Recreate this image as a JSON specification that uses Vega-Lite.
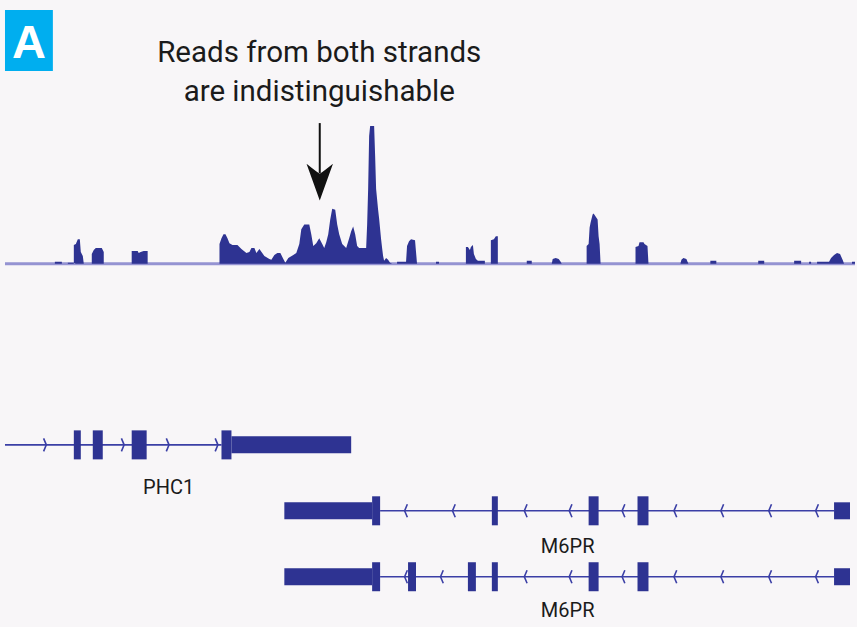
{
  "$schema": "https://vega.github.io/schema/vega-lite/v6.json",
  "width": 857,
  "height": 627,
  "padding": 0,
  "autosize": {"type": "fit", "contains": "padding"},
  "background": "#f8f6f8",
  "config": {"view": {"stroke": null}, "axis": {"disable": true}},
  "datasets": {
    "baseline": [{"start": 5, "end": 857, "level": 0}],
    "coverage": [
      {"pos": 50, "depth": 0}, {"pos": 55, "depth": 0}, {"pos": 55, "depth": 2}, {"pos": 62, "depth": 2}, {"pos": 62, "depth": 0},
      {"pos": 68, "depth": 0}, {"pos": 68, "depth": 1}, {"pos": 74, "depth": 1}, {"pos": 74, "depth": 18}, {"pos": 76, "depth": 20}, {"pos": 78, "depth": 25}, {"pos": 80, "depth": 25}, {"pos": 81, "depth": 12}, {"pos": 83, "depth": 8}, {"pos": 84, "depth": 0},
      {"pos": 92, "depth": 0}, {"pos": 92, "depth": 10}, {"pos": 94, "depth": 14}, {"pos": 96, "depth": 16}, {"pos": 102, "depth": 16}, {"pos": 104, "depth": 12}, {"pos": 104, "depth": 0},
      {"pos": 132, "depth": 0}, {"pos": 132, "depth": 13}, {"pos": 138, "depth": 13}, {"pos": 139, "depth": 11}, {"pos": 141, "depth": 12}, {"pos": 144, "depth": 13}, {"pos": 148, "depth": 13}, {"pos": 148, "depth": 0},
      {"pos": 220, "depth": 0}, {"pos": 220, "depth": 20}, {"pos": 222, "depth": 26}, {"pos": 224, "depth": 30}, {"pos": 226, "depth": 30}, {"pos": 228, "depth": 26}, {"pos": 230, "depth": 21}, {"pos": 233, "depth": 19}, {"pos": 238, "depth": 19}, {"pos": 242, "depth": 15}, {"pos": 247, "depth": 11}, {"pos": 250, "depth": 12}, {"pos": 252, "depth": 16}, {"pos": 255, "depth": 16}, {"pos": 257, "depth": 11}, {"pos": 260, "depth": 15}, {"pos": 265, "depth": 8}, {"pos": 270, "depth": 5}, {"pos": 272, "depth": 4}, {"pos": 275, "depth": 9}, {"pos": 278, "depth": 11}, {"pos": 281, "depth": 11}, {"pos": 284, "depth": 5}, {"pos": 286, "depth": 1}, {"pos": 289, "depth": 6}, {"pos": 294, "depth": 9}, {"pos": 297, "depth": 11}, {"pos": 300, "depth": 20}, {"pos": 302, "depth": 35}, {"pos": 305, "depth": 40}, {"pos": 310, "depth": 40}, {"pos": 312, "depth": 30}, {"pos": 314, "depth": 18}, {"pos": 317, "depth": 21}, {"pos": 320, "depth": 26}, {"pos": 323, "depth": 20}, {"pos": 325, "depth": 16}, {"pos": 327, "depth": 22}, {"pos": 329, "depth": 30}, {"pos": 331, "depth": 45}, {"pos": 333, "depth": 56}, {"pos": 336, "depth": 55}, {"pos": 338, "depth": 40}, {"pos": 340, "depth": 30}, {"pos": 343, "depth": 20}, {"pos": 347, "depth": 16}, {"pos": 350, "depth": 26}, {"pos": 352, "depth": 33}, {"pos": 354, "depth": 38}, {"pos": 356, "depth": 30}, {"pos": 358, "depth": 18}, {"pos": 360, "depth": 16}, {"pos": 367, "depth": 16}, {"pos": 368, "depth": 40}, {"pos": 369, "depth": 76}, {"pos": 370, "depth": 130}, {"pos": 371, "depth": 140}, {"pos": 375, "depth": 140}, {"pos": 376, "depth": 110}, {"pos": 377, "depth": 76}, {"pos": 379, "depth": 55}, {"pos": 380, "depth": 46}, {"pos": 382, "depth": 25}, {"pos": 383, "depth": 16}, {"pos": 384, "depth": 8}, {"pos": 385, "depth": 3}, {"pos": 387, "depth": 6}, {"pos": 389, "depth": 4}, {"pos": 391, "depth": 1}, {"pos": 393, "depth": 0},
      {"pos": 398, "depth": 0}, {"pos": 398, "depth": 2}, {"pos": 407, "depth": 2}, {"pos": 408, "depth": 18}, {"pos": 410, "depth": 23}, {"pos": 412, "depth": 25}, {"pos": 416, "depth": 24}, {"pos": 417, "depth": 12}, {"pos": 418, "depth": 0},
      {"pos": 437, "depth": 0}, {"pos": 437, "depth": 2}, {"pos": 440, "depth": 2}, {"pos": 440, "depth": 0},
      {"pos": 467, "depth": 0}, {"pos": 467, "depth": 17}, {"pos": 469, "depth": 17}, {"pos": 471, "depth": 14}, {"pos": 472, "depth": 17}, {"pos": 474, "depth": 19}, {"pos": 475, "depth": 10}, {"pos": 477, "depth": 5}, {"pos": 479, "depth": 3}, {"pos": 486, "depth": 3}, {"pos": 486, "depth": 0},
      {"pos": 492, "depth": 0}, {"pos": 492, "depth": 24}, {"pos": 495, "depth": 25}, {"pos": 497, "depth": 28}, {"pos": 499, "depth": 28}, {"pos": 499, "depth": 0},
      {"pos": 528, "depth": 0}, {"pos": 528, "depth": 3}, {"pos": 533, "depth": 3}, {"pos": 533, "depth": 0},
      {"pos": 553, "depth": 0}, {"pos": 554, "depth": 5}, {"pos": 557, "depth": 6}, {"pos": 560, "depth": 5}, {"pos": 562, "depth": 2}, {"pos": 563, "depth": 0},
      {"pos": 588, "depth": 0}, {"pos": 588, "depth": 18}, {"pos": 590, "depth": 20}, {"pos": 591, "depth": 37}, {"pos": 592, "depth": 42}, {"pos": 594, "depth": 50}, {"pos": 595, "depth": 51}, {"pos": 597, "depth": 48}, {"pos": 599, "depth": 45}, {"pos": 600, "depth": 28}, {"pos": 601, "depth": 20}, {"pos": 602, "depth": 0},
      {"pos": 637, "depth": 0}, {"pos": 637, "depth": 17}, {"pos": 640, "depth": 18}, {"pos": 641, "depth": 22}, {"pos": 645, "depth": 22}, {"pos": 646, "depth": 20}, {"pos": 649, "depth": 18}, {"pos": 650, "depth": 0},
      {"pos": 682, "depth": 0}, {"pos": 683, "depth": 4}, {"pos": 685, "depth": 6}, {"pos": 688, "depth": 5}, {"pos": 690, "depth": 0},
      {"pos": 712, "depth": 0}, {"pos": 712, "depth": 3}, {"pos": 718, "depth": 3}, {"pos": 718, "depth": 0},
      {"pos": 760, "depth": 0}, {"pos": 760, "depth": 3}, {"pos": 766, "depth": 3}, {"pos": 766, "depth": 0},
      {"pos": 796, "depth": 0}, {"pos": 796, "depth": 3}, {"pos": 803, "depth": 3}, {"pos": 803, "depth": 0},
      {"pos": 811, "depth": 0}, {"pos": 811, "depth": 2}, {"pos": 813, "depth": 2}, {"pos": 813, "depth": 0},
      {"pos": 819, "depth": 0}, {"pos": 819, "depth": 2}, {"pos": 831, "depth": 2}, {"pos": 833, "depth": 6}, {"pos": 836, "depth": 9}, {"pos": 839, "depth": 11}, {"pos": 842, "depth": 10}, {"pos": 845, "depth": 3}, {"pos": 846, "depth": 0},
      {"pos": 854, "depth": 0}, {"pos": 854, "depth": 2}, {"pos": 857, "depth": 2}
    ],
    "note": [
      {"text": "Reads from both strands", "pos": 320, "level": 205},
      {"text": "are indistinguishable", "pos": 320, "level": 165}
    ],
    "arrow": [{"pos": 320.5, "from": 143, "to": 92, "head": 83}],
    "panel": [{"label": "A", "start": 5, "end": 53, "top": 258, "bottom": 196, "pos": 29, "level": 209}],
    "introns": [
      {"track": "PHC1", "level": -184, "start": 5, "end": 222},
      {"track": "M6PR-1", "level": -251, "start": 381, "end": 836},
      {"track": "M6PR-2", "level": -318, "start": 381, "end": 836}
    ],
    "exons": [
      {"track": "PHC1", "level": -184, "start": 74, "end": 81, "kind": "coding"},
      {"track": "PHC1", "level": -184, "start": 93, "end": 103, "kind": "coding"},
      {"track": "PHC1", "level": -184, "start": 132, "end": 147, "kind": "coding"},
      {"track": "PHC1", "level": -184, "start": 222, "end": 232, "kind": "coding"},
      {"track": "PHC1", "level": -184, "start": 232, "end": 352, "kind": "utr"},
      {"track": "M6PR-1", "level": -251, "start": 285, "end": 373, "kind": "utr"},
      {"track": "M6PR-1", "level": -251, "start": 373, "end": 381, "kind": "coding"},
      {"track": "M6PR-1", "level": -251, "start": 493, "end": 499, "kind": "coding"},
      {"track": "M6PR-1", "level": -251, "start": 590, "end": 600, "kind": "coding"},
      {"track": "M6PR-1", "level": -251, "start": 639, "end": 650, "kind": "coding"},
      {"track": "M6PR-1", "level": -251, "start": 836, "end": 852, "kind": "utr"},
      {"track": "M6PR-2", "level": -318, "start": 285, "end": 373, "kind": "utr"},
      {"track": "M6PR-2", "level": -318, "start": 373, "end": 381, "kind": "coding"},
      {"track": "M6PR-2", "level": -318, "start": 409, "end": 417, "kind": "coding"},
      {"track": "M6PR-2", "level": -318, "start": 469, "end": 477, "kind": "coding"},
      {"track": "M6PR-2", "level": -318, "start": 493, "end": 499, "kind": "coding"},
      {"track": "M6PR-2", "level": -318, "start": 590, "end": 600, "kind": "coding"},
      {"track": "M6PR-2", "level": -318, "start": 639, "end": 650, "kind": "coding"},
      {"track": "M6PR-2", "level": -318, "start": 836, "end": 852, "kind": "utr"}
    ],
    "chevrons": [
      {"level": -184, "pos": 45, "strand": "+"},
      {"level": -184, "pos": 123, "strand": "+"},
      {"level": -184, "pos": 168, "strand": "+"},
      {"level": -184, "pos": 217, "strand": "+"},
      {"level": -251, "pos": 407, "strand": "-"},
      {"level": -251, "pos": 455, "strand": "-"},
      {"level": -251, "pos": 527, "strand": "-"},
      {"level": -251, "pos": 572, "strand": "-"},
      {"level": -251, "pos": 625, "strand": "-"},
      {"level": -251, "pos": 677, "strand": "-"},
      {"level": -251, "pos": 724, "strand": "-"},
      {"level": -251, "pos": 772, "strand": "-"},
      {"level": -251, "pos": 819, "strand": "-"},
      {"level": -318, "pos": 407, "strand": "-"},
      {"level": -318, "pos": 443, "strand": "-"},
      {"level": -318, "pos": 527, "strand": "-"},
      {"level": -318, "pos": 572, "strand": "-"},
      {"level": -318, "pos": 625, "strand": "-"},
      {"level": -318, "pos": 677, "strand": "-"},
      {"level": -318, "pos": 724, "strand": "-"},
      {"level": -318, "pos": 772, "strand": "-"},
      {"level": -318, "pos": 819, "strand": "-"}
    ],
    "genes": [
      {"name": "PHC1", "pos": 169, "level": -234},
      {"name": "M6PR", "pos": 569, "level": -294},
      {"name": "M6PR", "pos": 569, "level": -359}
    ]
  },
  "layer": [
    {
      "data": {"name": "baseline"},
      "mark": {"type": "rule", "color": "#9593d2", "strokeWidth": 3},
      "encoding": {
        "x": {"field": "start", "type": "quantitative", "scale": {"domain": [0, 857], "nice": false, "zero": false}},
        "x2": {"field": "end"},
        "y": {"field": "level", "type": "quantitative", "scale": {"domain": [-364, 263], "nice": false, "zero": false}}
      }
    },
    {
      "data": {"name": "coverage"},
      "mark": {"type": "area", "color": "#2e3392", "interpolate": "linear"},
      "encoding": {
        "x": {"field": "pos", "type": "quantitative", "sort": null},
        "y": {"field": "depth", "type": "quantitative"}
      }
    },
    {
      "data": {"name": "note"},
      "mark": {"type": "text", "font": "Roboto", "fontSize": 29.5, "color": "#1b1b1b", "align": "center", "baseline": "alphabetic"},
      "encoding": {
        "x": {"field": "pos", "type": "quantitative"},
        "y": {"field": "level", "type": "quantitative"},
        "text": {"field": "text"}
      }
    },
    {
      "data": {"name": "arrow"},
      "mark": {"type": "rule", "color": "#111111", "strokeWidth": 2},
      "encoding": {
        "x": {"field": "pos", "type": "quantitative"},
        "y": {"field": "from", "type": "quantitative"},
        "y2": {"field": "to"}
      }
    },
    {
      "data": {"name": "arrow"},
      "mark": {"type": "point", "filled": true, "color": "#111111", "opacity": 1, "size": 1347, "shape": "M0,1 L-0.72,-1 Q-0.25,-0.62 0,-0.45 Q0.25,-0.62 0.72,-1 Z"},
      "encoding": {
        "x": {"field": "pos", "type": "quantitative"},
        "y": {"field": "head", "type": "quantitative"}
      }
    },
    {
      "data": {"name": "panel"},
      "mark": {"type": "rect", "color": "#00aeef"},
      "encoding": {
        "x": {"field": "start", "type": "quantitative"},
        "x2": {"field": "end"},
        "y": {"field": "top", "type": "quantitative"},
        "y2": {"field": "bottom"}
      }
    },
    {
      "data": {"name": "panel"},
      "mark": {"type": "text", "font": "Liberation Sans", "fontWeight": "bold", "fontSize": 47, "color": "#ffffff", "align": "center", "baseline": "alphabetic"},
      "encoding": {
        "x": {"field": "pos", "type": "quantitative"},
        "y": {"field": "level", "type": "quantitative"},
        "text": {"field": "label"}
      }
    },
    {
      "data": {"name": "introns"},
      "mark": {"type": "rule", "color": "#3b3fa6", "strokeWidth": 1.6},
      "encoding": {
        "x": {"field": "start", "type": "quantitative"},
        "x2": {"field": "end"},
        "y": {"field": "level", "type": "quantitative"}
      }
    },
    {
      "data": {"name": "chevrons"},
      "mark": {"type": "point", "filled": false, "color": "#3b3fa6", "strokeWidth": 1.6, "opacity": 1, "size": 169},
      "encoding": {
        "x": {"field": "pos", "type": "quantitative"},
        "y": {"field": "level", "type": "quantitative"},
        "shape": {"field": "strand", "type": "nominal", "scale": {"domain": ["+", "-"], "range": ["M-0.2,-1 L0.22,0 L-0.2,1", "M0.2,-1 L-0.22,0 L0.2,1"]}, "legend": null}
      }
    },
    {
      "data": {"name": "exons"},
      "mark": {"type": "bar", "color": "#2e3392"},
      "encoding": {
        "x": {"field": "start", "type": "quantitative"},
        "x2": {"field": "end"},
        "y": {"field": "level", "type": "quantitative"},
        "size": {"field": "kind", "type": "nominal", "scale": {"domain": ["coding", "utr"], "range": [29, 17]}, "legend": null}
      }
    },
    {
      "data": {"name": "genes"},
      "mark": {"type": "text", "font": "Roboto", "fontSize": 20, "color": "#1b1b1b", "align": "center", "baseline": "alphabetic"},
      "encoding": {
        "x": {"field": "pos", "type": "quantitative"},
        "y": {"field": "level", "type": "quantitative"},
        "text": {"field": "name"}
      }
    }
  ]
}
